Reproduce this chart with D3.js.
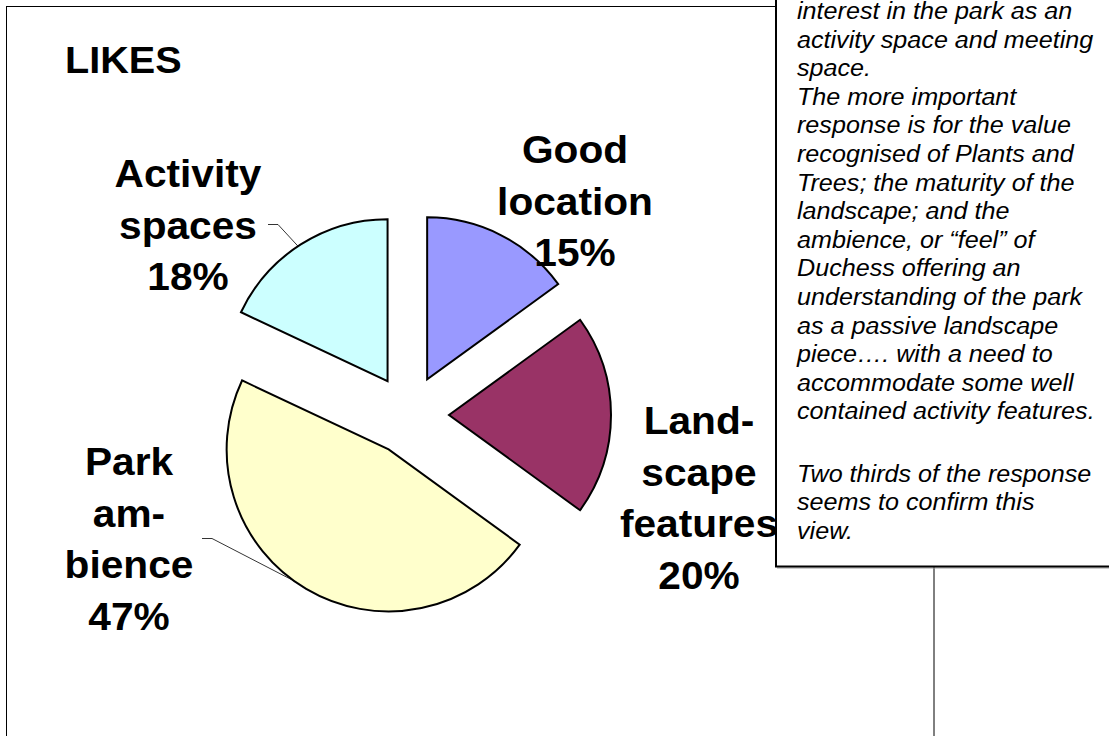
<!DOCTYPE html>
<html>
<head>
<meta charset="utf-8">
<script src="https://cdn.jsdelivr.net/npm/d3@7"></script>
<style>
  html, body { margin: 0; padding: 0; background: #fff; }
  svg { display: block; }
</style>
</head>
<body>
<svg id="chart" width="1109" height="736"></svg>
<script>
// Survey responses: what people like about the park
const categories = ["Good location", "Landscape features", "Park ambience", "Activity spaces"];
const shares = [15, 20, 47, 18];
const sliceColors = ["#9999FF", "#993366", "#FFFFCC", "#CCFFFF"];
// Data labels as they wrap inside the chart
const labelLines = [
  ["Good", "location", "15%"],
  ["Land-", "scape", "features", "20%"],
  ["Park", "am-", "bience", "47%"],
  ["Activity", "spaces", "18%"]
];
const chartTitle = "LIKES";
const noteLines = [
  "interest in the park as an",
  "activity space and meeting",
  "space.",
  "The more important",
  "response is for the value",
  "recognised of Plants and",
  "Trees; the maturity of the",
  "landscape; and the",
  "ambience, or \u201cfeel\u201d of",
  "Duchess offering an",
  "understanding of the park",
  "as a passive landscape",
  "piece\u2026. with a need to",
  "accommodate some well",
  "contained activity features.",
  "",
  "Two thirds of the response",
  "seems to confirm this",
  "view."
];

const svg = d3.select("#chart");
const FONT = "'Liberation Sans', Arial, Helvetica, sans-serif";
const SX = 1.07; // text is slightly wide in the layout

// Chart area frame
svg.append("rect")
  .attr("x", 6.5).attr("y", 6.5)
  .attr("width", 927.5).attr("height", 760)
  .attr("fill", "#fff").attr("stroke", "#000").attr("stroke-width", 1);

// Title
svg.append("text")
  .attr("transform", `translate(65,73) scale(${SX},1)`)
  .attr("font-family", FONT).attr("font-weight", "bold").attr("font-size", 37)
  .attr("fill", "#000")
  .text(chartTitle);

// Exploded pie
const cx = 409, cy = 415, radius = 162, explode = 40;
const pie = d3.pie().sort(null).value(d => d).startAngle(0).endAngle(2 * Math.PI);
const arcs = pie(shares);
const arc = d3.arc().innerRadius(0).outerRadius(radius);

const offsetOf = (d) => {
  const a = (d.startAngle + d.endAngle) / 2;
  return [explode * Math.sin(a), -explode * Math.cos(a)];
};

const g = svg.append("g").attr("transform", `translate(${cx},${cy})`);
g.selectAll("path.slice")
  .data(arcs)
  .join("path")
  .attr("class", "slice")
  .attr("transform", d => { const o = offsetOf(d); return `translate(${o[0]},${o[1]})`; })
  .attr("d", arc)
  .attr("fill", (d, i) => sliceColors[i])
  .attr("stroke", "#000")
  .attr("stroke-width", 2)
  .attr("stroke-linejoin", "miter");

// Label placement (centre x, first baseline) and optional leader line
const labelLayout = [
  { x: 575, y: 163, leader: null },
  { x: 699, y: 434, leader: null },
  { x: 129, y: 475, leader: { x0: 202, y0: 538.5, len: 10, tweak: 0.09 } },
  { x: 188, y: 187, leader: { x0: 268, y0: 224.5, len: 10, tweak: -0.02 } }
];
const lineStep = 51.5;

arcs.forEach((d, i) => {
  const L = labelLayout[i];
  labelLines[i].forEach((t, k) => {
    svg.append("text")
      .attr("transform", `translate(${L.x},${L.y + k * lineStep}) scale(${SX},1)`)
      .attr("text-anchor", "middle")
      .attr("font-family", FONT).attr("font-weight", "bold").attr("font-size", 38)
      .attr("fill", "#000")
      .text(t);
  });
  if (L.leader) {
    const o = offsetOf(d);
    const a = (d.startAngle + d.endAngle) / 2 + L.leader.tweak;
    const ex = cx + o[0] + radius * Math.sin(a);
    const ey = cy + o[1] - radius * Math.cos(a);
    svg.append("path")
      .attr("d", d3.line()([[L.leader.x0, L.leader.y0], [L.leader.x0 + L.leader.len, L.leader.y0], [ex, ey]]))
      .attr("fill", "none").attr("stroke", "#000").attr("stroke-width", 0.8);
  }
});

// Commentary text box
const boxX = 776, boxBottom = 566.5;
svg.append("line")
  .attr("x1", boxX + 1).attr("x2", 1109).attr("y1", boxBottom + 1.5).attr("y2", boxBottom + 1.5)
  .attr("stroke", "#999").attr("stroke-width", 1);
svg.append("rect")
  .attr("x", boxX).attr("y", -10)
  .attr("width", 1200 - boxX).attr("height", boxBottom + 10)
  .attr("fill", "#fff").attr("stroke", "#000").attr("stroke-width", 2);

const noteStart = 19, noteStep = 28.6;
let gap = 0;
noteLines.forEach((t, k) => {
  if (t === "") { gap = 5; return; }
  svg.append("text")
    .attr("transform", `translate(797,${noteStart + k * noteStep + gap}) scale(${SX},1)`)
    .attr("font-family", FONT).attr("font-style", "italic").attr("font-size", 23.5)
    .attr("fill", "#000")
    .text(t);
});
</script>
</body>
</html>
